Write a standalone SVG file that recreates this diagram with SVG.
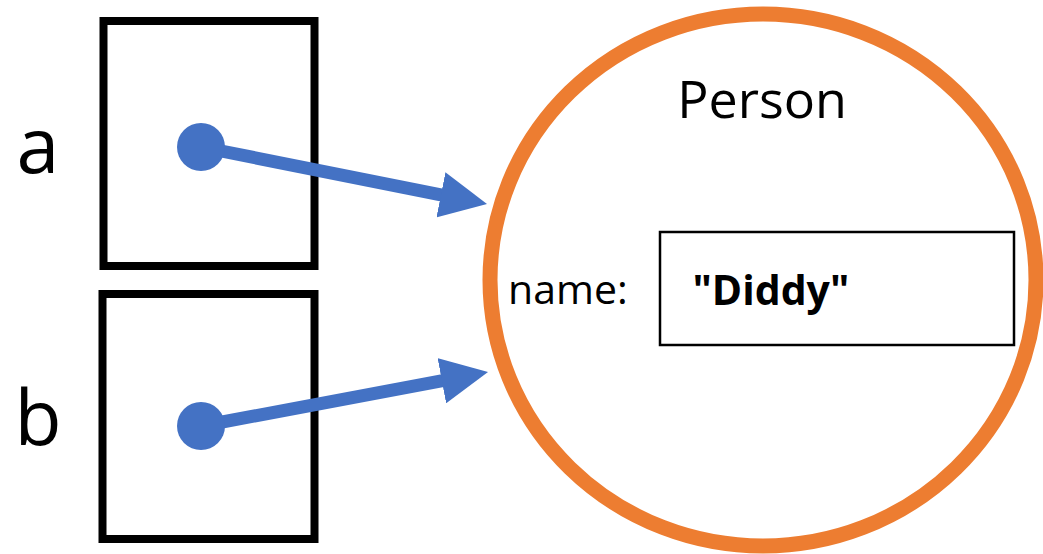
<svg xmlns="http://www.w3.org/2000/svg" width="1043" height="554" viewBox="0 0 1043 554">
  <style>
    .ref { fill: #FFFFFF; stroke: #000000; stroke-width: 8; }
    .lbl { font-family: "Open Sans", "Liberation Sans", sans-serif; fill: #000000; }
    .conn { stroke: #4472C4; stroke-width: 13; fill: none; }
    .dot { fill: #4472C4; }
  </style>
  <defs>
    <marker id="arrow" markerUnits="userSpaceOnUse" markerWidth="47" markerHeight="46" viewBox="0 0 47 46" refX="32" refY="23" orient="auto">
      <path d="M0,0 L47,23 L0,46 Z" fill="#4472C4"/>
    </marker>
  </defs>
  <rect width="1043" height="554" fill="#FFFFFF"/>

  <g id="var-a">
    <rect class="ref" x="103.5" y="21" width="211" height="245"/>
    <text class="lbl" x="38" y="173" font-size="77" text-anchor="middle">a</text>
  </g>

  <g id="var-b">
    <rect class="ref" x="102.5" y="294" width="212" height="245"/>
    <text class="lbl" x="38" y="445" font-size="77" text-anchor="middle">b</text>
  </g>

  <g id="person">
    <ellipse cx="763" cy="280" rx="273" ry="266" fill="#FFFFFF" stroke="#ED7D31" stroke-width="15"/>
    <text class="lbl" x="762" y="118" font-size="52" text-anchor="middle">Person</text>
    <text class="lbl" x="508" y="304" font-size="41">name:</text>
    <rect x="660" y="232" width="354" height="113" fill="#FFFFFF" stroke="#000000" stroke-width="2.5"/>
    <text class="lbl" x="692.5" y="305" font-size="41" font-weight="bold">"Diddy"</text>
  </g>

  <g id="connectors">
    <line class="conn" x1="201" y1="147" x2="472.3" y2="201.1" marker-end="url(#arrow)"/>
    <circle class="dot" cx="201" cy="147" r="24"/>
    <line class="conn" x1="201" y1="426" x2="473.3" y2="374.8" marker-end="url(#arrow)"/>
    <circle class="dot" cx="201" cy="426" r="24"/>
  </g>
</svg>
